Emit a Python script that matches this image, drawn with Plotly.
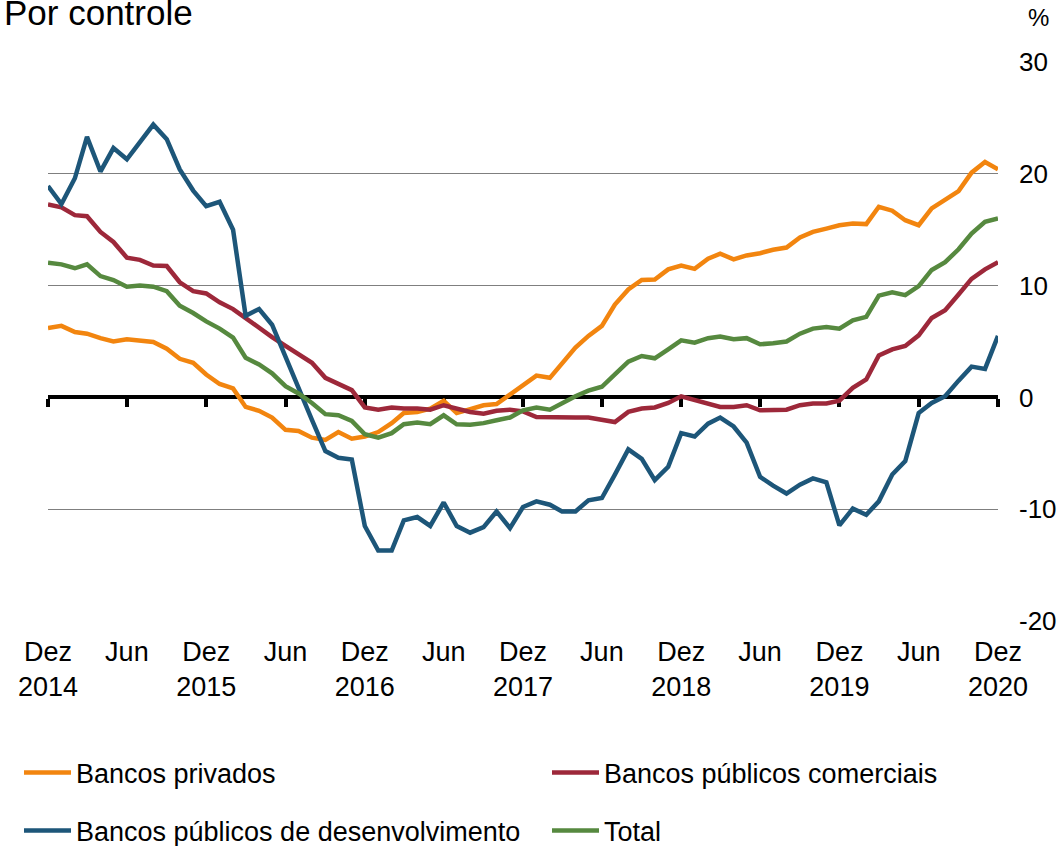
import pandas as pd
import plotly.graph_objects as go

# Monthly series, Dez 2014 .. Dez 2020 (% change, 12 months)
months = pd.date_range("2014-12-01", "2020-12-01", freq="MS")

bancos_privados = [
    6.2, 6.4, 5.85, 5.7, 5.3, 5.0, 5.2, 5.05, 4.95, 4.35, 3.45, 3.1,
    2.05, 1.2, 0.8, -0.85, -1.2, -1.8, -2.9, -3.0, -3.6, -3.8, -3.1, -3.7,
    -3.5, -3.1, -2.3, -1.4, -1.3, -1.0, -0.3, -1.4, -1.0, -0.7, -0.6, 0.25,
    1.1, 1.95, 1.75, 3.1, 4.45, 5.5, 6.4, 8.3, 9.65, 10.5, 10.55, 11.45,
    11.8, 11.5, 12.4, 12.85, 12.35, 12.7, 12.9, 13.2, 13.4, 14.3, 14.8, 15.1,
    15.4, 15.55, 15.5, 17.05, 16.7, 15.85, 15.4, 16.9, 17.7, 18.45, 20.1, 21.05,
    20.4,
]
bancos_publicos_comerciais = [
    17.25, 17.0, 16.3, 16.2, 14.8, 13.9, 12.5, 12.3, 11.8, 11.75, 10.3, 9.5,
    9.3, 8.5, 7.9, 7.1, 6.15, 5.4, 4.6, 3.9, 3.1, 1.75, 1.2, 0.65,
    -0.9, -1.1, -0.9, -1.0, -1.0, -1.1, -0.7, -1.0, -1.3, -1.45, -1.2, -1.1,
    -1.25, -1.75, -1.8, -1.8, -1.8, -1.8, -2.05, -2.2, -1.3, -1.0, -0.9, -0.5,
    0.1, -0.2, -0.55, -0.85, -0.85, -0.7, -1.15, -1.1, -1.1, -0.7, -0.55, -0.55,
    -0.3, 0.85, 1.6, 3.75, 4.3, 4.6, 5.55, 7.1, 7.8, 9.2, 10.6, 11.45,
    12.1,
]
bancos_publicos_desenvolvimento = [
    18.9, 17.3, 19.6, 23.3, 20.2, 22.3, 21.3, 22.9, 24.4, 23.1, 20.4, 18.5,
    17.1, 17.5, 15.0, 7.3, 7.9, 6.5, 3.55, 0.7, -2.0, -4.8, -5.4, -5.55,
    -11.5, -13.7, -13.7, -11.0, -10.7, -11.5, -9.4, -11.5, -12.1, -11.6, -10.2, -11.7,
    -9.8, -9.3, -9.6, -10.2, -10.2, -9.2, -9.0, -6.9, -4.65, -5.5, -7.4, -6.2,
    -3.2, -3.5, -2.35, -1.8, -2.6, -4.05, -7.1, -7.9, -8.6, -7.8, -7.25, -7.6,
    -11.45, -9.95, -10.5, -9.3, -6.9, -5.7, -1.4, -0.5, 0.1, 1.5, 2.75, 2.55,
    5.5,
]
total = [
    12.05, 11.9, 11.55, 11.9, 10.85, 10.5, 9.9, 10.0, 9.9, 9.5, 8.2, 7.55,
    6.8, 6.15, 5.35, 3.55, 2.95, 2.15, 1.0, 0.35, -0.5, -1.5, -1.6, -2.1,
    -3.3, -3.6, -3.2, -2.4, -2.25, -2.4, -1.6, -2.4, -2.45, -2.3, -2.05, -1.8,
    -1.15, -0.9, -1.1, -0.5, 0.1, 0.6, 0.95, 2.05, 3.2, 3.7, 3.5, 4.3,
    5.1, 4.9, 5.3, 5.45, 5.2, 5.3, 4.75, 4.85, 5.0, 5.7, 6.15, 6.3,
    6.15, 6.9, 7.2, 9.1, 9.4, 9.15, 9.95, 11.4, 12.1, 13.25, 14.65, 15.7,
    16.0,
]

# Semiannual tick positions and their labels
tick_dates = list(pd.date_range("2014-12-01", "2020-12-01", freq="6MS"))
tick_labels = ["Dez<br>2014", "Jun", "Dez<br>2015", "Jun", "Dez<br>2016", "Jun",
               "Dez<br>2017", "Jun", "Dez<br>2018", "Jun", "Dez<br>2019", "Jun",
               "Dez<br>2020"]
y_ticks = [-20, -10, 0, 10, 20, 30]
y_labels = [str(v) for v in y_ticks]

FONT = "Liberation Sans, Arial, sans-serif"

# name, values, colour, x axis, legend box
series = [
    ("Bancos privados", bancos_privados, "#F2850F", "x", "legend"),
    ("Bancos públicos comerciais", bancos_publicos_comerciais, "#9D283A", "x", "legend2"),
    ("Bancos públicos de desenvolvimento", bancos_publicos_desenvolvimento, "#1D5679", "x2", "legend3"),
    ("Total", total, "#56893F", "x2", "legend4"),
]

fig = go.Figure()
for name, values, color, xax, leg in series:
    fig.add_trace(go.Scatter(
        x=months, y=values, name=name, mode="lines",
        line=dict(color=color, width=4.5),
        legend=leg, xaxis=xax,
    ))

x_range = [months[0], months[-1]]
ymin, ymax = -20, 30


def legend_box(x_px, y_px):
    return dict(
        orientation="h", xref="container", yref="container",
        x=x_px / 1063, y=1 - y_px / 846, xanchor="left", yanchor="middle",
        itemwidth=47, font=dict(size=27), bgcolor="rgba(0,0,0,0)",
    )


fig.update_layout(
    width=1063, height=846,
    margin=dict(l=48, r=65, t=62, b=225, autoexpand=False),
    paper_bgcolor="white", plot_bgcolor="white",
    font=dict(family=FONT, size=26, color="black"),
    showlegend=True,
    # baseline at zero carrying the semiannual tick marks
    xaxis=dict(
        type="date", range=x_range, anchor="free",
        position=(0 - ymin) / (ymax - ymin),
        showline=True, linecolor="black", linewidth=3.5,
        ticks="outside", ticklen=8, tickwidth=3.5, tickcolor="black",
        tickvals=tick_dates, showticklabels=False,
        showgrid=False, zeroline=False, layer="below traces", automargin=False,
    ),
    # bottom axis with the month / year labels
    xaxis2=dict(
        type="date", range=x_range, overlaying="x", anchor="y", side="bottom",
        showline=False, ticks="", showgrid=False, zeroline=False,
        tickvals=tick_dates, ticktext=tick_labels,
        tickfont=dict(size=27), ticklabelstandoff=12, automargin=False,
    ),
    yaxis=dict(
        range=[ymin, ymax], side="right", tickvals=y_ticks, ticktext=y_labels,
        showgrid=True, gridcolor="#7f7f7f", gridwidth=1.2,
        zeroline=False, showline=False, ticks="",
        tickfont=dict(size=26), ticklabelstandoff=20, automargin=False,
    ),
    legend=legend_box(19, 773),
    legend2=legend_box(547, 773),
    legend3=legend_box(19, 831),
    legend4=legend_box(547, 831),
    annotations=[
        dict(text="Por controle", xref="paper", yref="paper",
             x=-46 / 950, y=(621 - 13) / 559, xanchor="left", yanchor="middle",
             showarrow=False, font=dict(size=35)),
        dict(text="%", xref="paper", yref="paper",
             x=(1038 - 48) / 950, y=(621 - 17) / 559, xanchor="center", yanchor="middle",
             showarrow=False, font=dict(size=24)),
    ],
)

fig.write_html("out.html")
